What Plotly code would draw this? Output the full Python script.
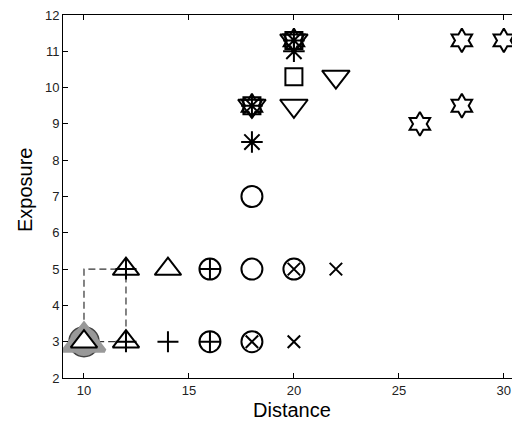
import plotly.graph_objects as go

# ---- data ----
tri_up_x = [10, 12, 12, 14]
tri_up_y = [3, 3, 5, 5]

plus_x = [12, 12, 14, 16, 16]
plus_y = [3, 5, 3, 3, 5]

circle_x = [16, 16, 18, 18, 18, 20]
circle_y = [3, 5, 3, 5, 7, 5]

xmark_x = [18, 20, 20, 22]
xmark_y = [3, 3, 5, 5]

aster_x = [18, 18, 20, 20]
aster_y = [8.5, 9.5, 11, 11.3]

square_x = [18, 20, 20]
square_y = [9.5, 10.3, 11.3]

tri_down_x = [18, 20, 20, 22]
tri_down_y = [9.5, 9.5, 11.3, 10.3]

hexa_x = [18, 20, 26, 28, 28, 30]
hexa_y = [9.5, 11.3, 9, 9.5, 11.3, 11.3]

path_x = [10, 10, 12, 12, 10]
path_y = [3, 5, 5, 3, 3]

highlight_x = [10]
highlight_y = [3]

x_ticks = [10, 15, 20, 25, 30]
y_ticks = list(range(2, 13))

FONT = "Arial, Liberation Sans, sans-serif"
LW = 2

fig = go.Figure()

fig.add_trace(go.Scatter(x=path_x, y=path_y, mode="lines",
                         line=dict(color="#333", width=1.2, dash="7px,4px"),
                         hoverinfo="skip"))

# gray highlight blob
fig.add_trace(go.Scatter(x=highlight_x, y=highlight_y, mode="markers",
                         marker=dict(symbol="circle", size=30, color="#999999",
                                     line=dict(color="#444444", width=1.5))))
fig.add_trace(go.Scatter(x=highlight_x, y=highlight_y, mode="markers",
                         marker=dict(symbol="triangle-up", size=36, color="#999999",
                                     line=dict(color="#999999", width=4))))

def add(x, y, sym, size, fill=None):
    fig.add_trace(go.Scatter(
        x=x, y=y, mode="markers",
        marker=dict(symbol=sym, size=size,
                    color=fill if fill else "black",
                    line=dict(color="black", width=LW))))

add(tri_up_x, tri_up_y, "triangle-up", 23, fill="white")
add(plus_x, plus_y, "cross-thin-open", 15)
add(circle_x, circle_y, "circle-open", 21)
add(xmark_x, xmark_y, "x-thin-open", 12.5)
add(square_x, square_y, "square-open", 17)
add(tri_down_x, tri_down_y, "triangle-down-open", 24)
add(hexa_x, hexa_y, "hexagram-open", 18)
add(aster_x, aster_y, "asterisk-open", 18)

axis_common = dict(showline=True, linecolor="black", linewidth=1,
                   ticks="inside", ticklen=5, tickcolor="black",
                   showgrid=False, zeroline=False, automargin=False,
                   ticklabeloverflow="allow",
                   tickfont=dict(family=FONT, size=13, color="#222"))

# page body has an 8px margin; compensate so the plot lands where the reference's does
OFF = 8
W, H = 520, 421
L, T = 63 - OFF, 15 - OFF
R = OFF
B = H - (378 - OFF)
pw, ph = W - L - R, H - T - B

def px2paper(sx, sy):
    fx, fy = sx - OFF, sy - OFF
    return (fx - L) / pw, (H - B - fy) / ph

dx, dy = px2paper(292, 410)
ex, ey = px2paper(25, 190)

fig.update_layout(
    width=W, height=H,
    margin=dict(l=L, r=R, t=T, b=B),
    paper_bgcolor="white", plot_bgcolor="white",
    showlegend=False,
    xaxis=dict(range=[9, 30.77], tickvals=x_ticks, mirror="ticks", **axis_common),
    yaxis=dict(range=[2, 12], tickvals=y_ticks, mirror=False, **axis_common),
    annotations=[
        dict(text="Distance", xref="paper", yref="paper", x=dx, y=dy,
             showarrow=False, xanchor="center", yanchor="middle",
             font=dict(family=FONT, size=20, color="black")),
        dict(text="Exposure", xref="paper", yref="paper", x=ex, y=ey,
             showarrow=False, xanchor="center", yanchor="middle", textangle=-90,
             font=dict(family=FONT, size=20, color="black")),
    ],
)

fig.write_html("out.html")
